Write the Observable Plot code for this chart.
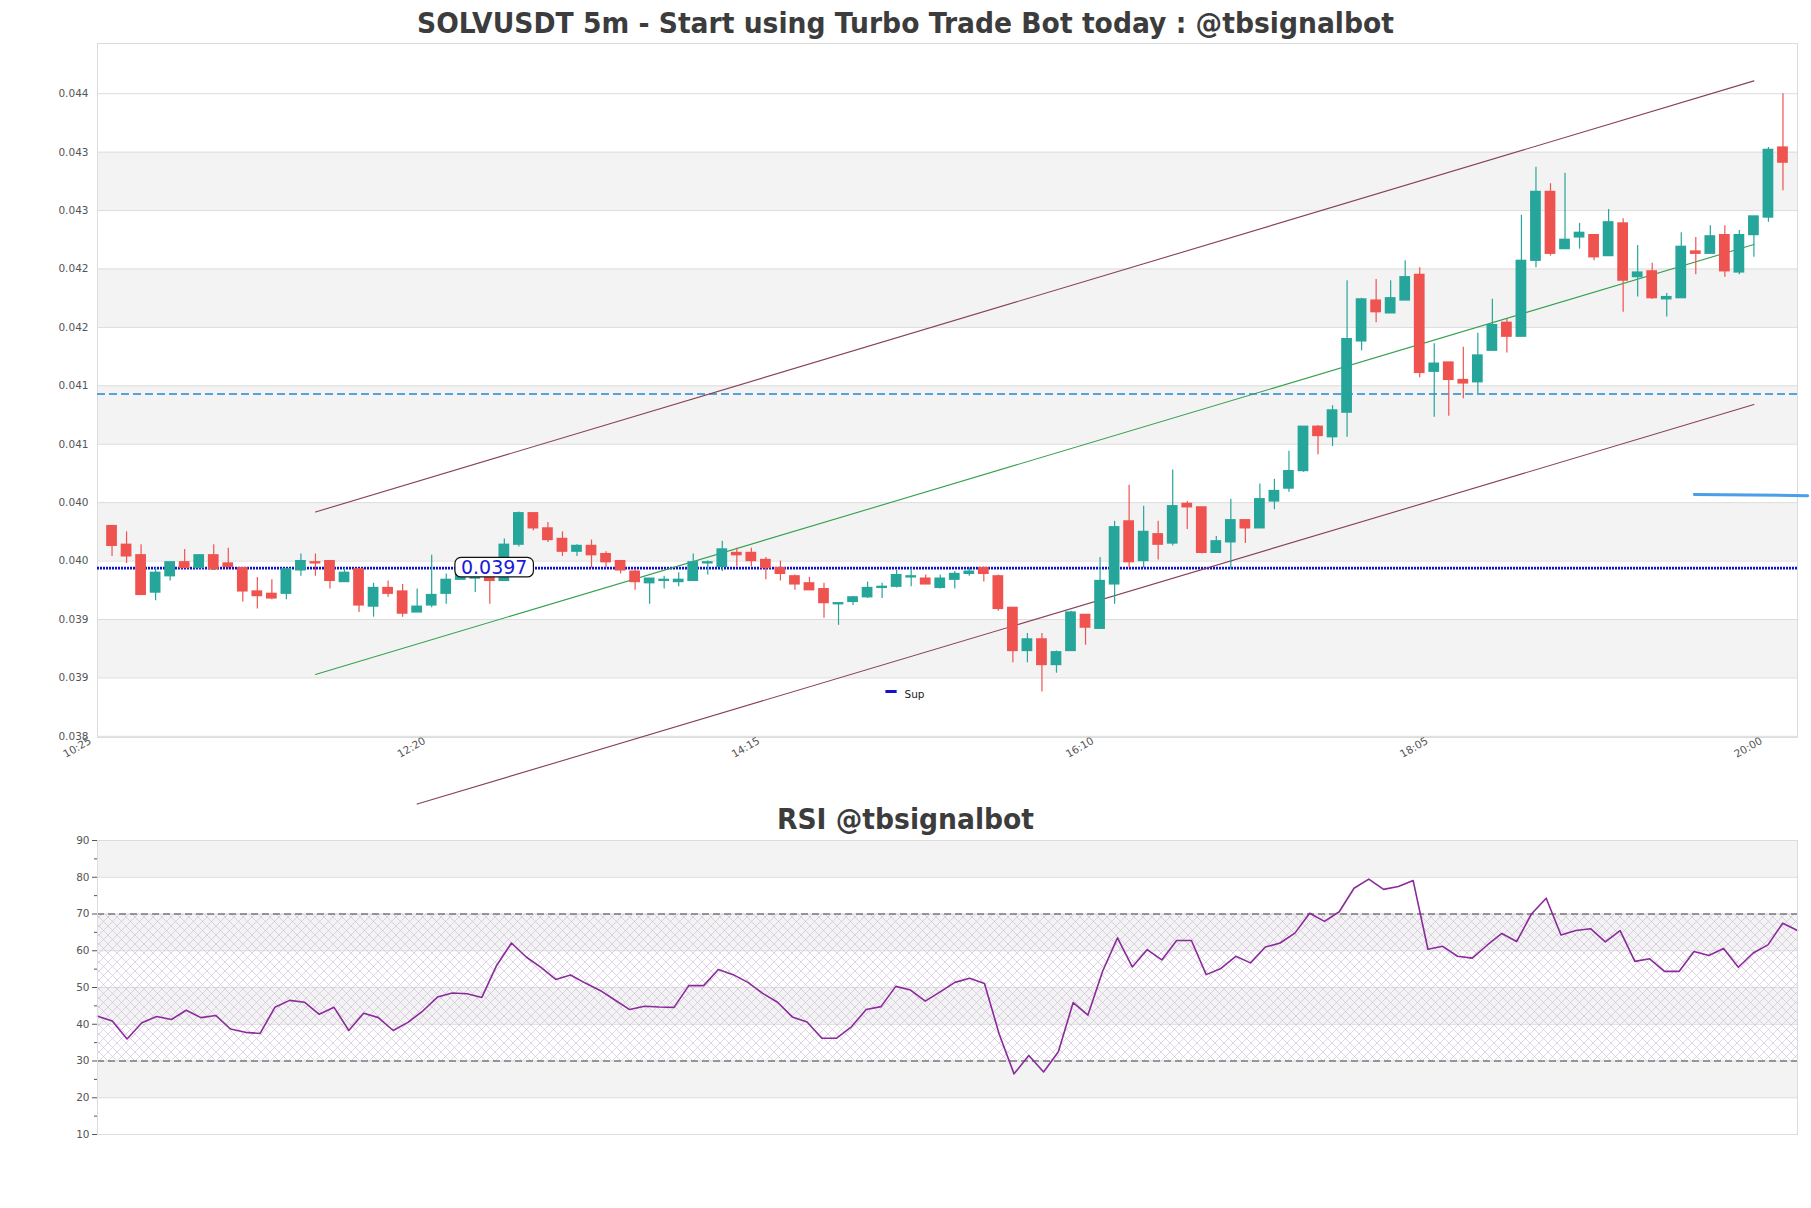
<!DOCTYPE html>
<html><head><meta charset="utf-8">
<script src="https://cdn.jsdelivr.net/npm/d3@7"></script>
<script src="https://cdn.jsdelivr.net/npm/@observablehq/plot@0.6"></script>
<style>
html,body{margin:0;padding:0;background:#fff;width:1811px;height:1208px;overflow:hidden;font-family:"DejaVu Sans",sans-serif;}
#wrap{position:relative;width:1811px;height:1208px;}
#wrap > svg{position:absolute;left:0;}
</style></head><body><div id="wrap"></div>
<script>
// ---------------- data ----------------
const startTime = "10:35";
const open  = [0.04006,0.03990,0.03981,0.03949,0.03963,0.03975,0.03970,0.03981,0.03974,0.03970,
0.03950,0.03948,0.03948,0.03968,0.03975,0.03976,0.03958,0.03969,0.03937,0.03953,
0.03950,0.03932,0.03938,0.03948,0.03960,0.03961,0.03963,0.03959,0.03990,0.04017,
0.04004,0.03995,0.03984,0.03989,0.03982,0.03976,0.03967,0.03957,0.03959,0.03958,
0.03959,0.03974,0.03971,0.03983,0.03983,0.03977,0.03970,0.03963,0.03957,0.03952,
0.03939,0.03941,0.03945,0.03953,0.03954,0.03962,0.03961,0.03953,0.03960,0.03965,
0.03970,0.03963,0.03936,0.03899,0.03909,0.03887,0.03899,0.03930,0.03918,0.03956,
0.04010,0.03976,0.03999,0.03991,0.04025,0.04022,0.03983,0.03992,0.04011,0.04004,
0.04027,0.04038,0.04053,0.04091,0.04082,0.04103,0.04164,0.04199,0.04188,0.04199,
0.04221,0.04138,0.04146,0.04131,0.04129,0.04156,0.04180,0.04168,0.04233,0.04292,
0.04243,0.04253,0.04255,0.04237,0.04265,0.04219,0.04224,0.04200,0.04201,0.04241,
0.04239,0.04255,0.04223,0.04255,0.04270,0.04330];
const high  = [0.04006,0.04001,0.03990,0.03970,0.03975,0.03986,0.03981,0.03990,0.03987,0.03970,
0.03962,0.03960,0.03969,0.03982,0.03982,0.03976,0.03970,0.03969,0.03957,0.03959,
0.03956,0.03952,0.03981,0.03965,0.03966,0.03966,0.03966,0.03995,0.04018,0.04017,
0.04009,0.04001,0.03990,0.03994,0.03984,0.03976,0.03969,0.03961,0.03963,0.03966,
0.03982,0.03976,0.03993,0.03987,0.03987,0.03979,0.03976,0.03964,0.03962,0.03957,
0.03940,0.03946,0.03958,0.03957,0.03968,0.03970,0.03964,0.03964,0.03967,0.03970,
0.03971,0.03964,0.03936,0.03914,0.03914,0.03899,0.03933,0.03930,0.03979,0.04010,
0.04041,0.04023,0.04010,0.04054,0.04027,0.04022,0.03997,0.04029,0.04011,0.04042,
0.04046,0.04070,0.04091,0.04092,0.04109,0.04216,0.04201,0.04217,0.04216,0.04233,
0.04227,0.04162,0.04146,0.04159,0.04171,0.04200,0.04183,0.04272,0.04313,0.04299,
0.04308,0.04265,0.04255,0.04277,0.04269,0.04246,0.04231,0.04205,0.04257,0.04253,
0.04263,0.04263,0.04259,0.04271,0.04330,0.04376];
const low   = [0.03980,0.03974,0.03947,0.03942,0.03959,0.03970,0.03970,0.03968,0.03969,0.03941,
0.03935,0.03943,0.03943,0.03963,0.03963,0.03952,0.03958,0.03932,0.03928,0.03945,
0.03928,0.03932,0.03936,0.03939,0.03960,0.03949,0.03939,0.03959,0.03988,0.04002,
0.03992,0.03980,0.03980,0.03970,0.03970,0.03965,0.03951,0.03939,0.03952,0.03954,
0.03959,0.03964,0.03967,0.03971,0.03971,0.03960,0.03959,0.03951,0.03951,0.03927,
0.03921,0.03938,0.03944,0.03944,0.03953,0.03954,0.03956,0.03952,0.03952,0.03963,
0.03958,0.03933,0.03889,0.03889,0.03864,0.03880,0.03899,0.03904,0.03918,0.03939,
0.03970,0.03970,0.03977,0.03989,0.04003,0.03982,0.03983,0.03969,0.03991,0.04004,
0.04020,0.04035,0.04052,0.04067,0.04074,0.04082,0.04156,0.04180,0.04188,0.04199,
0.04133,0.04099,0.04100,0.04115,0.04119,0.04156,0.04154,0.04168,0.04227,0.04237,
0.04243,0.04243,0.04233,0.04237,0.04189,0.04202,0.04200,0.04185,0.04201,0.04221,
0.04239,0.04219,0.04221,0.04236,0.04266,0.04293];
const close = [0.03989,0.03980,0.03947,0.03966,0.03975,0.03970,0.03981,0.03969,0.03971,0.03950,
0.03946,0.03944,0.03969,0.03976,0.03974,0.03959,0.03966,0.03938,0.03953,0.03948,
0.03931,0.03937,0.03947,0.03960,0.03964,0.03963,0.03959,0.03990,0.04017,0.04004,
0.03994,0.03984,0.03989,0.03981,0.03975,0.03968,0.03958,0.03961,0.03960,0.03960,
0.03975,0.03975,0.03986,0.03981,0.03976,0.03970,0.03965,0.03956,0.03951,0.03940,
0.03940,0.03945,0.03953,0.03954,0.03964,0.03963,0.03956,0.03961,0.03965,0.03967,
0.03965,0.03935,0.03899,0.03909,0.03887,0.03898,0.03932,0.03919,0.03959,0.04005,
0.03975,0.04001,0.03990,0.04023,0.04022,0.03983,0.03993,0.04011,0.04004,0.04029,
0.04036,0.04053,0.04091,0.04083,0.04105,0.04166,0.04200,0.04189,0.04201,0.04219,
0.04137,0.04145,0.04131,0.04128,0.04152,0.04178,0.04168,0.04233,0.04292,0.04239,
0.04251,0.04257,0.04236,0.04266,0.04216,0.04223,0.04201,0.04202,0.04245,0.04239,
0.04254,0.04224,0.04255,0.04271,0.04328,0.04317];
const rsi = [42.2,40.9,36.0,40.4,42.1,41.3,43.8,41.8,42.4,38.7,37.8,37.5,44.6,46.5,46.0,42.7,44.6,38.3,43.0,41.8,
38.3,40.5,43.6,47.4,48.5,48.3,47.3,56.0,62.1,58.3,55.5,52.2,53.4,51.2,49.2,46.6,44.0,44.9,44.7,44.6,
50.5,50.5,54.9,53.5,51.4,48.4,46.0,42.0,40.6,36.2,36.2,39.3,44.0,44.8,50.3,49.3,46.3,48.8,51.4,52.5,
51.1,37.3,26.5,31.5,27.0,32.5,45.9,42.5,54.5,63.5,55.6,60.3,57.5,62.8,62.8,53.5,55.2,58.5,56.7,61.0,
62.1,64.8,70.2,68.0,70.6,77.0,79.5,76.7,77.5,79.1,60.4,61.2,58.5,58.0,61.5,64.7,62.5,70.0,74.3,64.3,
65.5,66.0,62.4,65.5,57.1,57.8,54.4,54.4,59.8,58.7,60.6,55.5,59.4,61.6,67.5,65.5];
const yTickValues = [0.03826,0.03876,0.03926,0.03976,0.04026,0.04076,0.04126,0.04176,0.04226,0.04276,0.04326,0.04376];
const xTickLabels = ["10:25","12:20","14:15","16:10","18:05","20:00"];
const rsiTicks = [10,20,30,40,50,60,70,80,90];
const rsiMinor = [15,25,35,45,55,65,75,85];
const rsiLevels = [30,70];
const supLevel = 0.03970;
const supLabelIndex = 26.3;
const resistance = 0.04119;
const upperChannel = [{i:14,v:0.04018},{i:113,v:0.04387}];
const midChannel   = [{i:14,v:0.03879},{i:113,v:0.04247}];
const lowerChannel = [{i:21,v:0.03768},{i:113,v:0.04110}];
const pivotSeg     = [{i:108.9,v:0.04033},{i:116.7,v:0.04032}];
const titleMain = "SOLVUSDT 5m - Start using Turbo Trade Bot today : @tbsignalbot";
const titleRsi = "RSI @tbsignalbot";

// ---------------- derived ----------------
const UP = "#26a69a", DOWN = "#ef5350";
const candles = open.map((o, i) => ({i, o, h: high[i], l: low[i], c: close[i]}));
const col = d => d.c >= d.o ? UP : DOWN;
const xDomain = [-1, candles.length];
const toMin = s => { const [h, m] = s.split(":").map(Number); return h * 60 + m; };
const xTicks = xTickLabels.map(t => ({t, i: (toMin(t) - toMin(startTime)) / 5}));
const bands1 = [1, 3, 5, 7, 9].map(k => [yTickValues[k], yTickValues[k + 1]]);
const rsiBands = [[20,30],[40,50],[60,70],[80,90]];
const baseStyle = {fontFamily: "DejaVu Sans", fontSize: "10.5px", color: "#555", overflow: "visible", background: "transparent"};

const wrap = document.getElementById("wrap");

// ---------------- price chart ----------------
const p1 = Plot.plot({
  width: 1811, height: 810, marginLeft: 97, marginRight: 14, marginTop: 43, marginBottom: 73,
  style: baseStyle,
  x: {domain: xDomain, axis: null},
  y: {domain: [0.03825, 0.04419], axis: null},
  marks: [
    Plot.rect(bands1, {x1: () => xDomain[0], x2: () => xDomain[1], y1: d => d[0], y2: d => d[1], fill: "#f3f3f3"}),
    Plot.ruleY(yTickValues, {stroke: "#dcdcdc"}),
    Plot.frame({stroke: "#dcdcdc"}),
    Plot.axisY(yTickValues, {tickSize: 0, tickPadding: 9, tickFormat: d => d.toFixed(3), label: null, fontSize: 10.5}),
    Plot.text(xTicks, {x: "i", text: "t", frameAnchor: "bottom", dy: 13, dx: -4, rotate: -30, fontSize: 10.5, fill: "#555"}),
    Plot.ruleY([resistance], {stroke: "#2289d0", strokeWidth: 1.3, strokeDasharray: "8,4"}),
    Plot.ruleY([supLevel], {stroke: "#1010c8", strokeWidth: 2.8, strokeDasharray: "2,1"}),
    Plot.line(upperChannel, {x: "i", y: "v", stroke: "#874159", strokeWidth: 1.1}),
    Plot.line(lowerChannel, {x: "i", y: "v", stroke: "#874159", strokeWidth: 1.1}),
    Plot.line(midChannel, {x: "i", y: "v", stroke: "#33a04f", strokeWidth: 1.1}),
    Plot.line(pivotSeg, {x: "i", y: "v", stroke: "#4a9fe6", strokeWidth: 3}),
    Plot.ruleX(candles, {x: "i", y1: "l", y2: "h", stroke: col, strokeWidth: 1.2}),
    Plot.rect(candles, {x1: d => d.i - 0.37, x2: d => d.i + 0.37, y1: d => Math.min(d.o, d.c), y2: d => Math.max(d.o, d.c),
      fill: col, insetTop: -0.6, insetBottom: -0.6}),
    Plot.text(["━"], {frameAnchor: "bottom", dx: -56.5, dy: -40, fill: "#1212c8", fontSize: 18, text: d => d}),
    Plot.text(["Sup"], {frameAnchor: "bottom", dx: -43, dy: -40, textAnchor: "start", fill: "#222", fontSize: 10.5, text: d => d}),
    Plot.text([supLevel], {x: () => supLabelIndex, y: d => d, text: d => d.toFixed(4), fill: "#1a1ad8", fontSize: 19,
      className: "suplabel"})
  ]
});
p1.style.top = "0px";
wrap.appendChild(p1);

// rounded box behind the level label
(() => {
  const t = p1.querySelector("g.suplabel text");
  if (!t) return;
  const bb = t.getBBox();
  const r = document.createElementNS("http://www.w3.org/2000/svg", "rect");
  const cy = bb.y + bb.height / 2;
  r.setAttribute("x", bb.x - 6); r.setAttribute("width", bb.width + 12);
  r.setAttribute("y", cy - 9.8); r.setAttribute("height", 19.6);
  r.setAttribute("rx", 6); r.setAttribute("fill", "white"); r.setAttribute("stroke", "#111"); r.setAttribute("stroke-width", 1.2);
  const tr = t.getAttribute("transform");
  if (tr) r.setAttribute("transform", tr);
  t.parentNode.insertBefore(r, t);
})();

// ---------------- RSI chart ----------------
const p2 = Plot.plot({
  width: 1811, height: 400, marginLeft: 97, marginRight: 14, marginTop: 40, marginBottom: 66,
  style: baseStyle,
  x: {domain: [0, rsi.length - 1], axis: null},
  y: {domain: [10, 90], axis: null},
  marks: [
    Plot.rect(rsiBands, {x1: () => 0, x2: () => rsi.length - 1, y1: d => d[0], y2: d => d[1], fill: "#f3f3f3"}),
    Plot.ruleY(rsiTicks, {stroke: "#dcdcdc"}),
    Plot.rect([rsiLevels], {x1: () => 0, x2: () => rsi.length - 1, y1: d => d[0], y2: d => d[1], fill: "url(#rsihatch)"}),
    Plot.ruleY(rsiLevels, {stroke: "#444", strokeWidth: 1.2, strokeDasharray: "7,4"}),
    Plot.lineY(rsi, {x: (d, i) => i, y: d => d, stroke: "#8b2a9b", strokeWidth: 1.6}),
    Plot.frame({stroke: "#dcdcdc"}),
    Plot.axisY(rsiTicks, {tickSize: 5, tickPadding: 3, label: null, fontSize: 10.5}),
    Plot.axisY(rsiMinor, {tickSize: 3, tickFormat: () => "", label: null})
  ]
});
p2.style.top = "800px";
wrap.appendChild(p2);
(() => {
  const ns = "http://www.w3.org/2000/svg";
  const defs = document.createElementNS(ns, "defs");
  defs.innerHTML = '<pattern id="rsihatch" patternUnits="userSpaceOnUse" width="9" height="9">' +
    '<path d="M0,0L9,9M9,0L0,9" stroke="#cbb8d6" stroke-width="0.6" fill="none"/></pattern>';
  p2.insertBefore(defs, p2.firstChild);
})();

// ---------------- titles ----------------
const ts = d3.create("svg").attr("width", 1811).attr("height", 1208).style("top", "0px").style("pointer-events", "none");
ts.append("text").attr("x", 905.5).attr("y", 33).attr("text-anchor", "middle")
  .attr("font-family", "DejaVu Sans").attr("font-weight", "bold").attr("font-size", 29).attr("fill", "#3c3c3c")
  .attr("textLength", 977).attr("lengthAdjust", "spacingAndGlyphs").text(titleMain);
ts.append("text").attr("x", 905.5).attr("y", 829).attr("text-anchor", "middle")
  .attr("font-family", "DejaVu Sans").attr("font-weight", "bold").attr("font-size", 29).attr("fill", "#3c3c3c")
  .attr("textLength", 257).attr("lengthAdjust", "spacingAndGlyphs").text(titleRsi);
wrap.appendChild(ts.node());
</script></body></html>
